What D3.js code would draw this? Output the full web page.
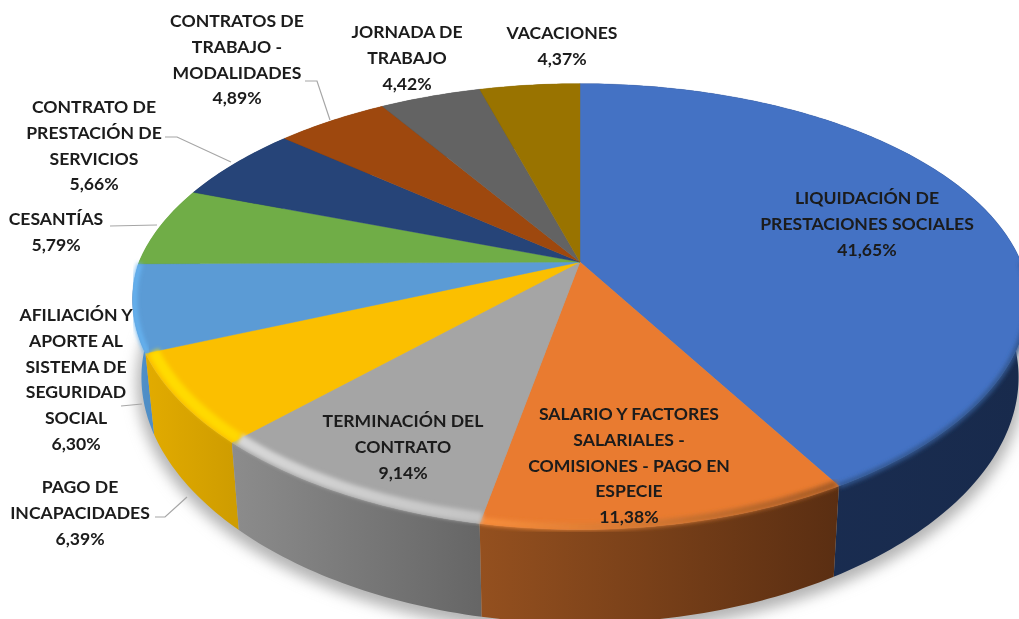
<!DOCTYPE html>
<html><head><meta charset="utf-8">
<script src="https://cdn.jsdelivr.net/npm/d3@7/dist/d3.min.js"></script>
<style>html,body{margin:0;padding:0;background:#fff;overflow:hidden}svg{display:block}
text{font-family:Lato,"Open Sans",sans-serif;font-weight:700;font-size:17.6px;fill:#1a1a1a;text-anchor:middle}</style>
</head><body><svg id="c" width="1019" height="619"></svg>
<script>
const categories = [
  ["LIQUIDACIÓN DE","PRESTACIONES SOCIALES"],
  ["SALARIO Y FACTORES","SALARIALES -","COMISIONES - PAGO EN","ESPECIE"],
  ["TERMINACIÓN DEL","CONTRATO"],
  ["PAGO DE","INCAPACIDADES"],
  ["AFILIACIÓN Y","APORTE AL","SISTEMA DE","SEGURIDAD","SOCIAL"],
  ["CESANTÍAS"],
  ["CONTRATO DE","PRESTACIÓN DE","SERVICIOS"],
  ["CONTRATOS DE","TRABAJO -","MODALIDADES"],
  ["JORNADA DE","TRABAJO"],
  ["VACACIONES"]
];
const values = [41.65,11.38,9.14,6.39,6.30,5.79,5.66,4.89,4.42,4.37];
const topColors = ["#4472c4","#e97b30","#a5a5a5","#fbbf00","#5b9bd5","#70ad47","#264478","#9e480e","#636363","#997300"];
const wallLeft  = ["#1b2f55","#94501f","#8c8c8c","#e2ab00","#5596d0","#5d913b","#1b3158","#71330a","#474747","#6e5300"];
const wallRight = ["#182a4c","#5a2e12","#666666","#cf9d00","#4f8ec6","#5d913b","#1b3158","#71330a","#474747","#6e5300"];
const rimLeft   = ["#33568f","#f98f3c","#d8d8d8","#ffdc00","#66b4f2"];
const rimRight  = ["#33568f","#a35a26","#c4c4c4","#ffd800","#66b4f2"];
const rimRadius = [1.0,0.992,0.982,0.982,0.996];
const rimWidth  = [5,7,11,11,5];
// label layout: centre x and first line y, per slice
const labelX = [867,629,403,80,76,56,94,237,407,562];
const labelY = [198,414,421,487,315,219,107,21,32,33];
const lineStep = 25.8;
const leaders = {3:[[155,517],[165,517],[187,497]],4:[[121,406],[142,404]],5:[[110,226],[157,225]],
  6:[[165,137],[177,137],[231,162]],7:[[305,81],[317,81],[330,120]]};

const cx=580, cy=262, R=441, Ry=214, k=0.2, kFront=0.17, depth=75, taper=0.02;
const TAU=Math.PI*2;
const project=(a,r=1,z=0)=>{
  const X=Math.sin(a)*r,Y=-Math.cos(a)*r,s=1/(1-k*Y),sx=1/(1-(Y>0?kFront:k)*Y);
  return [cx+R*X*sx*(1-taper*z),cy+Ry*Y*s+z*depth*s];
};
const arcs=d3.pie().sort(null).startAngle(0).endAngle(TAU)(values);
const samples=(a0,a1,n=Math.max(8,Math.ceil((a1-a0)*60)))=>d3.range(n+1).map(i=>a0+(a1-a0)*i/n);
const line=d3.line();
const fmt=v=>d3.format(".2f")(v).replace(".",",")+"%";

const svg=d3.select("#c");
const defs=svg.append("defs");
const blurDef=(id,sd)=>defs.append("filter").attr("id",id).attr("x","-10%").attr("y","-10%").attr("width","120%").attr("height","120%")
  .append("feGaussianBlur").attr("stdDeviation",sd);
blurDef("shadow",7); blurDef("rim",2); blurDef("soft",0.45);
const gradient=(id,i,c0,c1)=>{
  const xs=samples(arcs[i].startAngle,arcs[i].endAngle).map(a=>project(a)[0]);
  const g=defs.append("linearGradient").attr("id",id).attr("gradientUnits","userSpaceOnUse")
    .attr("x1",d3.min(xs)).attr("x2",d3.max(xs)).attr("y1",0).attr("y2",0);
  g.append("stop").attr("offset",0).attr("stop-color",c0);
  g.append("stop").attr("offset",1).attr("stop-color",c1);
};
arcs.forEach((d,i)=>gradient("w"+i,i,wallLeft[i],wallRight[i]));
rimLeft.forEach((c,i)=>gradient("r"+i,i,c,rimRight[i]));

// soft ground shadow
const ring=samples(0,TAU,360);
svg.append("path").attr("d",line(ring.map(a=>project(a,1.012,1.06)))+"Z").attr("fill","#b4b4b4").attr("filter","url(#shadow)");

// side walls, back to front
const wallOrder=d3.range(arcs.length).sort((a,b)=>{
  const m=d=>-Math.cos((d.startAngle+d.endAngle)/2);return m(arcs[a])-m(arcs[b]);});
svg.append("g").selectAll("path").data(wallOrder).join("path")
  .attr("d",i=>{const s=samples(arcs[i].startAngle,arcs[i].endAngle);
    return line(s.map(a=>project(a)).concat(s.slice().reverse().map(a=>project(a,1,1))))+"Z";})
  .attr("fill",i=>`url(#w${i})`);

// top faces
svg.append("g").selectAll("path").data(arcs).join("path")
  .attr("d",d=>line([project(0,0)].concat(samples(d.startAngle,d.endAngle).map(a=>project(a))))+"Z")
  .attr("fill",(d,i)=>topColors[i]).attr("stroke",(d,i)=>topColors[i]).attr("stroke-width",0.4);

// bevelled rim
svg.append("g").selectAll("path").data(arcs.slice(0,5)).join("path")
  .attr("d",(d,i)=>{const lim=Math.min(d.endAngle,Math.PI*1.5);
    return line(samples(d.startAngle,lim).filter(a=>a>Math.PI*0.5).map(a=>project(a,rimRadius[i])));})
  .attr("fill","none").attr("stroke",(d,i)=>`url(#r${i})`).attr("stroke-width",(d,i)=>rimWidth[i]).attr("filter","url(#rim)");

// leader lines
svg.append("g").selectAll("path").data(Object.values(leaders)).join("path")
  .attr("d",d=>line(d)).attr("fill","none").attr("stroke","#a6a6a6").attr("stroke-width",1.2);

// labels
const lab=svg.append("g").attr("filter","url(#soft)").selectAll("text").data(arcs).join("text")
  .attr("x",(d,i)=>labelX[i]).attr("y",(d,i)=>labelY[i]+6);
lab.selectAll("tspan").data((d,i)=>categories[i].concat(fmt(d.value)).map(t=>({t,i}))).join("tspan")
  .attr("x",d=>labelX[d.i]).attr("dy",(d,j)=>j?lineStep:0).text(d=>d.t);
</script></body></html>
